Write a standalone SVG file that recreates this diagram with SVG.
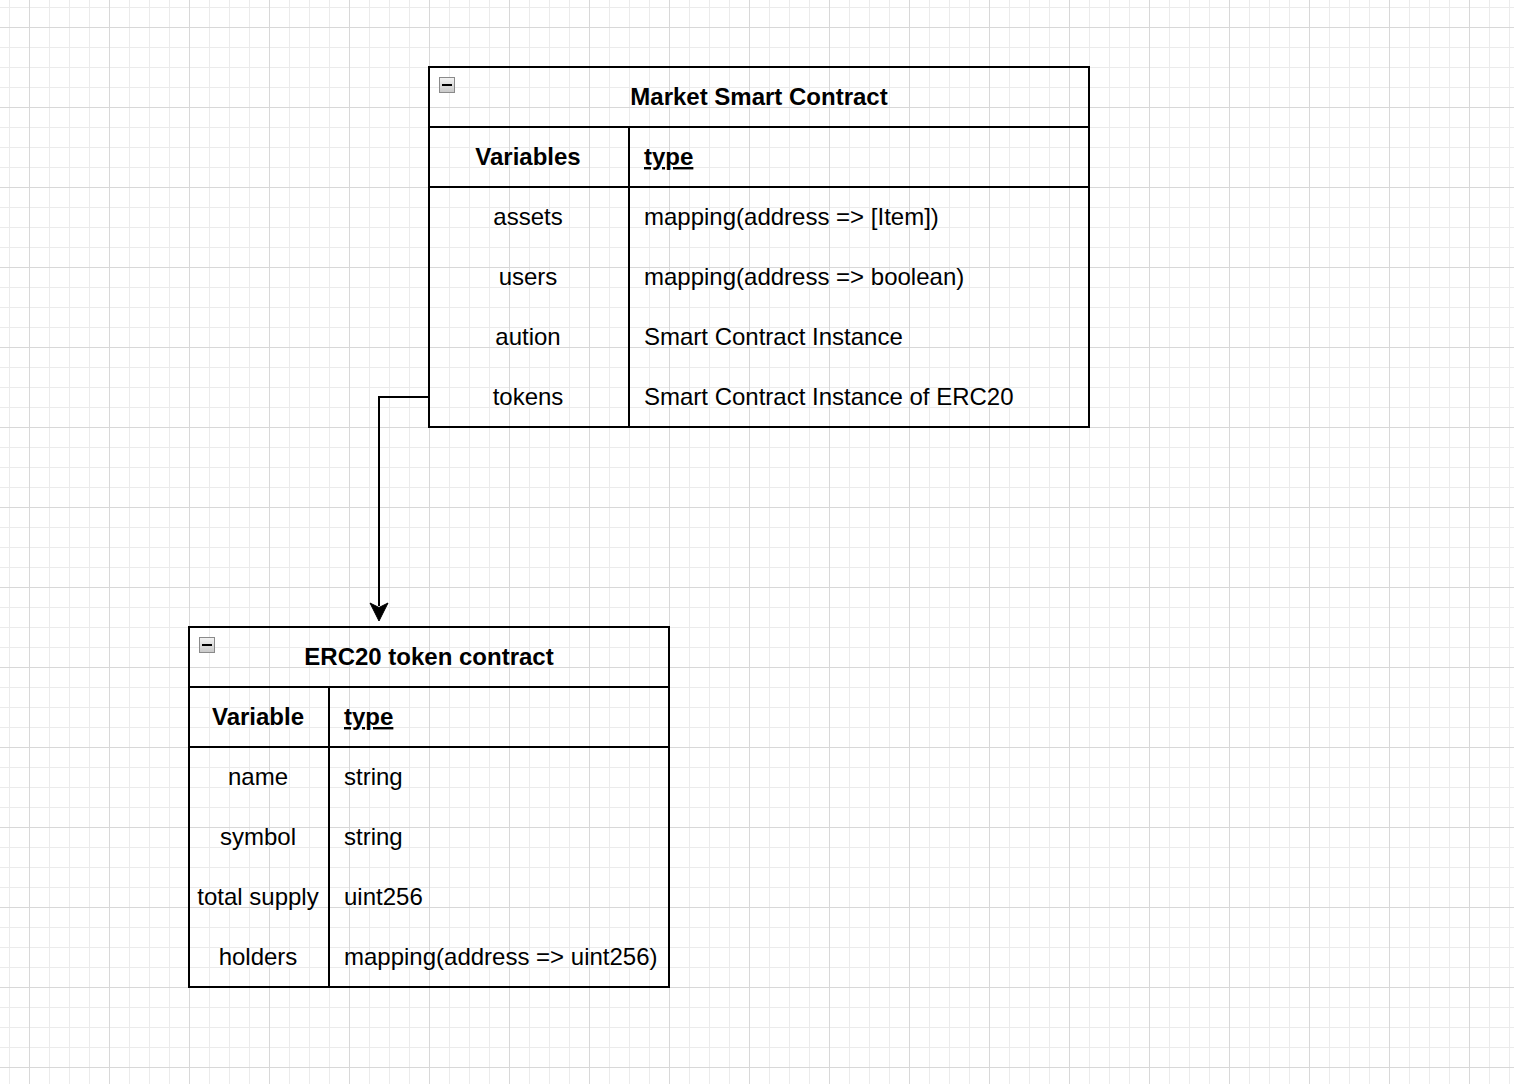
<svg xmlns="http://www.w3.org/2000/svg" width="1514" height="1084" viewBox="0 0 1514 1084">
<style>
.box{fill:none;stroke:#000;stroke-width:2}
.ln{stroke:#000;stroke-width:2;fill:none}
.t{font-family:"Liberation Sans",Arial,Helvetica,sans-serif;font-size:24px;fill:#000}
.c{text-anchor:middle}
.b{font-weight:bold}
.u{text-decoration:underline}
</style>
<defs>
<pattern id="minor" x="9" y="7" width="20" height="20" patternUnits="userSpaceOnUse">
<path d="M0.5 0V20M0 0.5H20" stroke="#ebebeb" stroke-width="1" fill="none"/>
</pattern>
<pattern id="major" x="29" y="27" width="80" height="80" patternUnits="userSpaceOnUse">
<path d="M0.5 0V80M0 0.5H80" stroke="#d8d8d8" stroke-width="1" fill="none"/>
</pattern>
<linearGradient id="ig" x1="0" y1="0" x2="0" y2="1">
<stop offset="0" stop-color="#f4f4f4"/>
<stop offset="1" stop-color="#c8c8c8"/>
</linearGradient>
<g id="icon">
<rect x="0.5" y="0.5" width="15" height="15" fill="url(#ig)" stroke="#8a8a8a" stroke-width="1"/>
<rect x="3" y="7" width="10" height="2" fill="#000"/>
</g>
</defs>
<rect width="1514" height="1084" fill="#fff"/>
<rect width="1514" height="1084" fill="url(#minor)"/>
<rect width="1514" height="1084" fill="url(#major)"/>

<g id="connectors">
<path class="ln" d="M429 397H379V606"/>
<path d="M379 621L370 603L379 607.5L388 603Z" fill="#000" stroke="#000" stroke-width="1"/>
</g>

<g id="market">
<rect class="box" x="429" y="67" width="660" height="360"/>
<path class="ln" d="M429 127H1089M429 187H1089M629 127V427"/>
<use href="#icon" x="439" y="77"/>
<text class="t b c" x="759" y="105">Market Smart Contract</text>
<text class="t b c" x="528" y="165">Variables</text>
<text class="t b u" x="644" y="165">type</text>
<text class="t c" x="528" y="225">assets</text>
<text class="t" x="644" y="225">mapping(address =&gt; [Item])</text>
<text class="t c" x="528" y="285">users</text>
<text class="t" x="644" y="285">mapping(address =&gt; boolean)</text>
<text class="t c" x="528" y="345">aution</text>
<text class="t" x="644" y="345">Smart Contract Instance</text>
<text class="t c" x="528" y="405">tokens</text>
<text class="t" x="644" y="405">Smart Contract Instance of ERC20</text>
</g>

<g id="erc20">
<rect class="box" x="189" y="627" width="480" height="360"/>
<path class="ln" d="M189 687H669M189 747H669M329 687V987"/>
<use href="#icon" x="199" y="637"/>
<text class="t b c" x="429" y="665">ERC20 token contract</text>
<text class="t b c" x="258" y="725">Variable</text>
<text class="t b u" x="344" y="725">type</text>
<text class="t c" x="258" y="785">name</text>
<text class="t" x="344" y="785">string</text>
<text class="t c" x="258" y="845">symbol</text>
<text class="t" x="344" y="845">string</text>
<text class="t c" x="258" y="905">total supply</text>
<text class="t" x="344" y="905">uint256</text>
<text class="t c" x="258" y="965">holders</text>
<text class="t" x="344" y="965">mapping(address =&gt; uint256)</text>
</g>
</svg>
